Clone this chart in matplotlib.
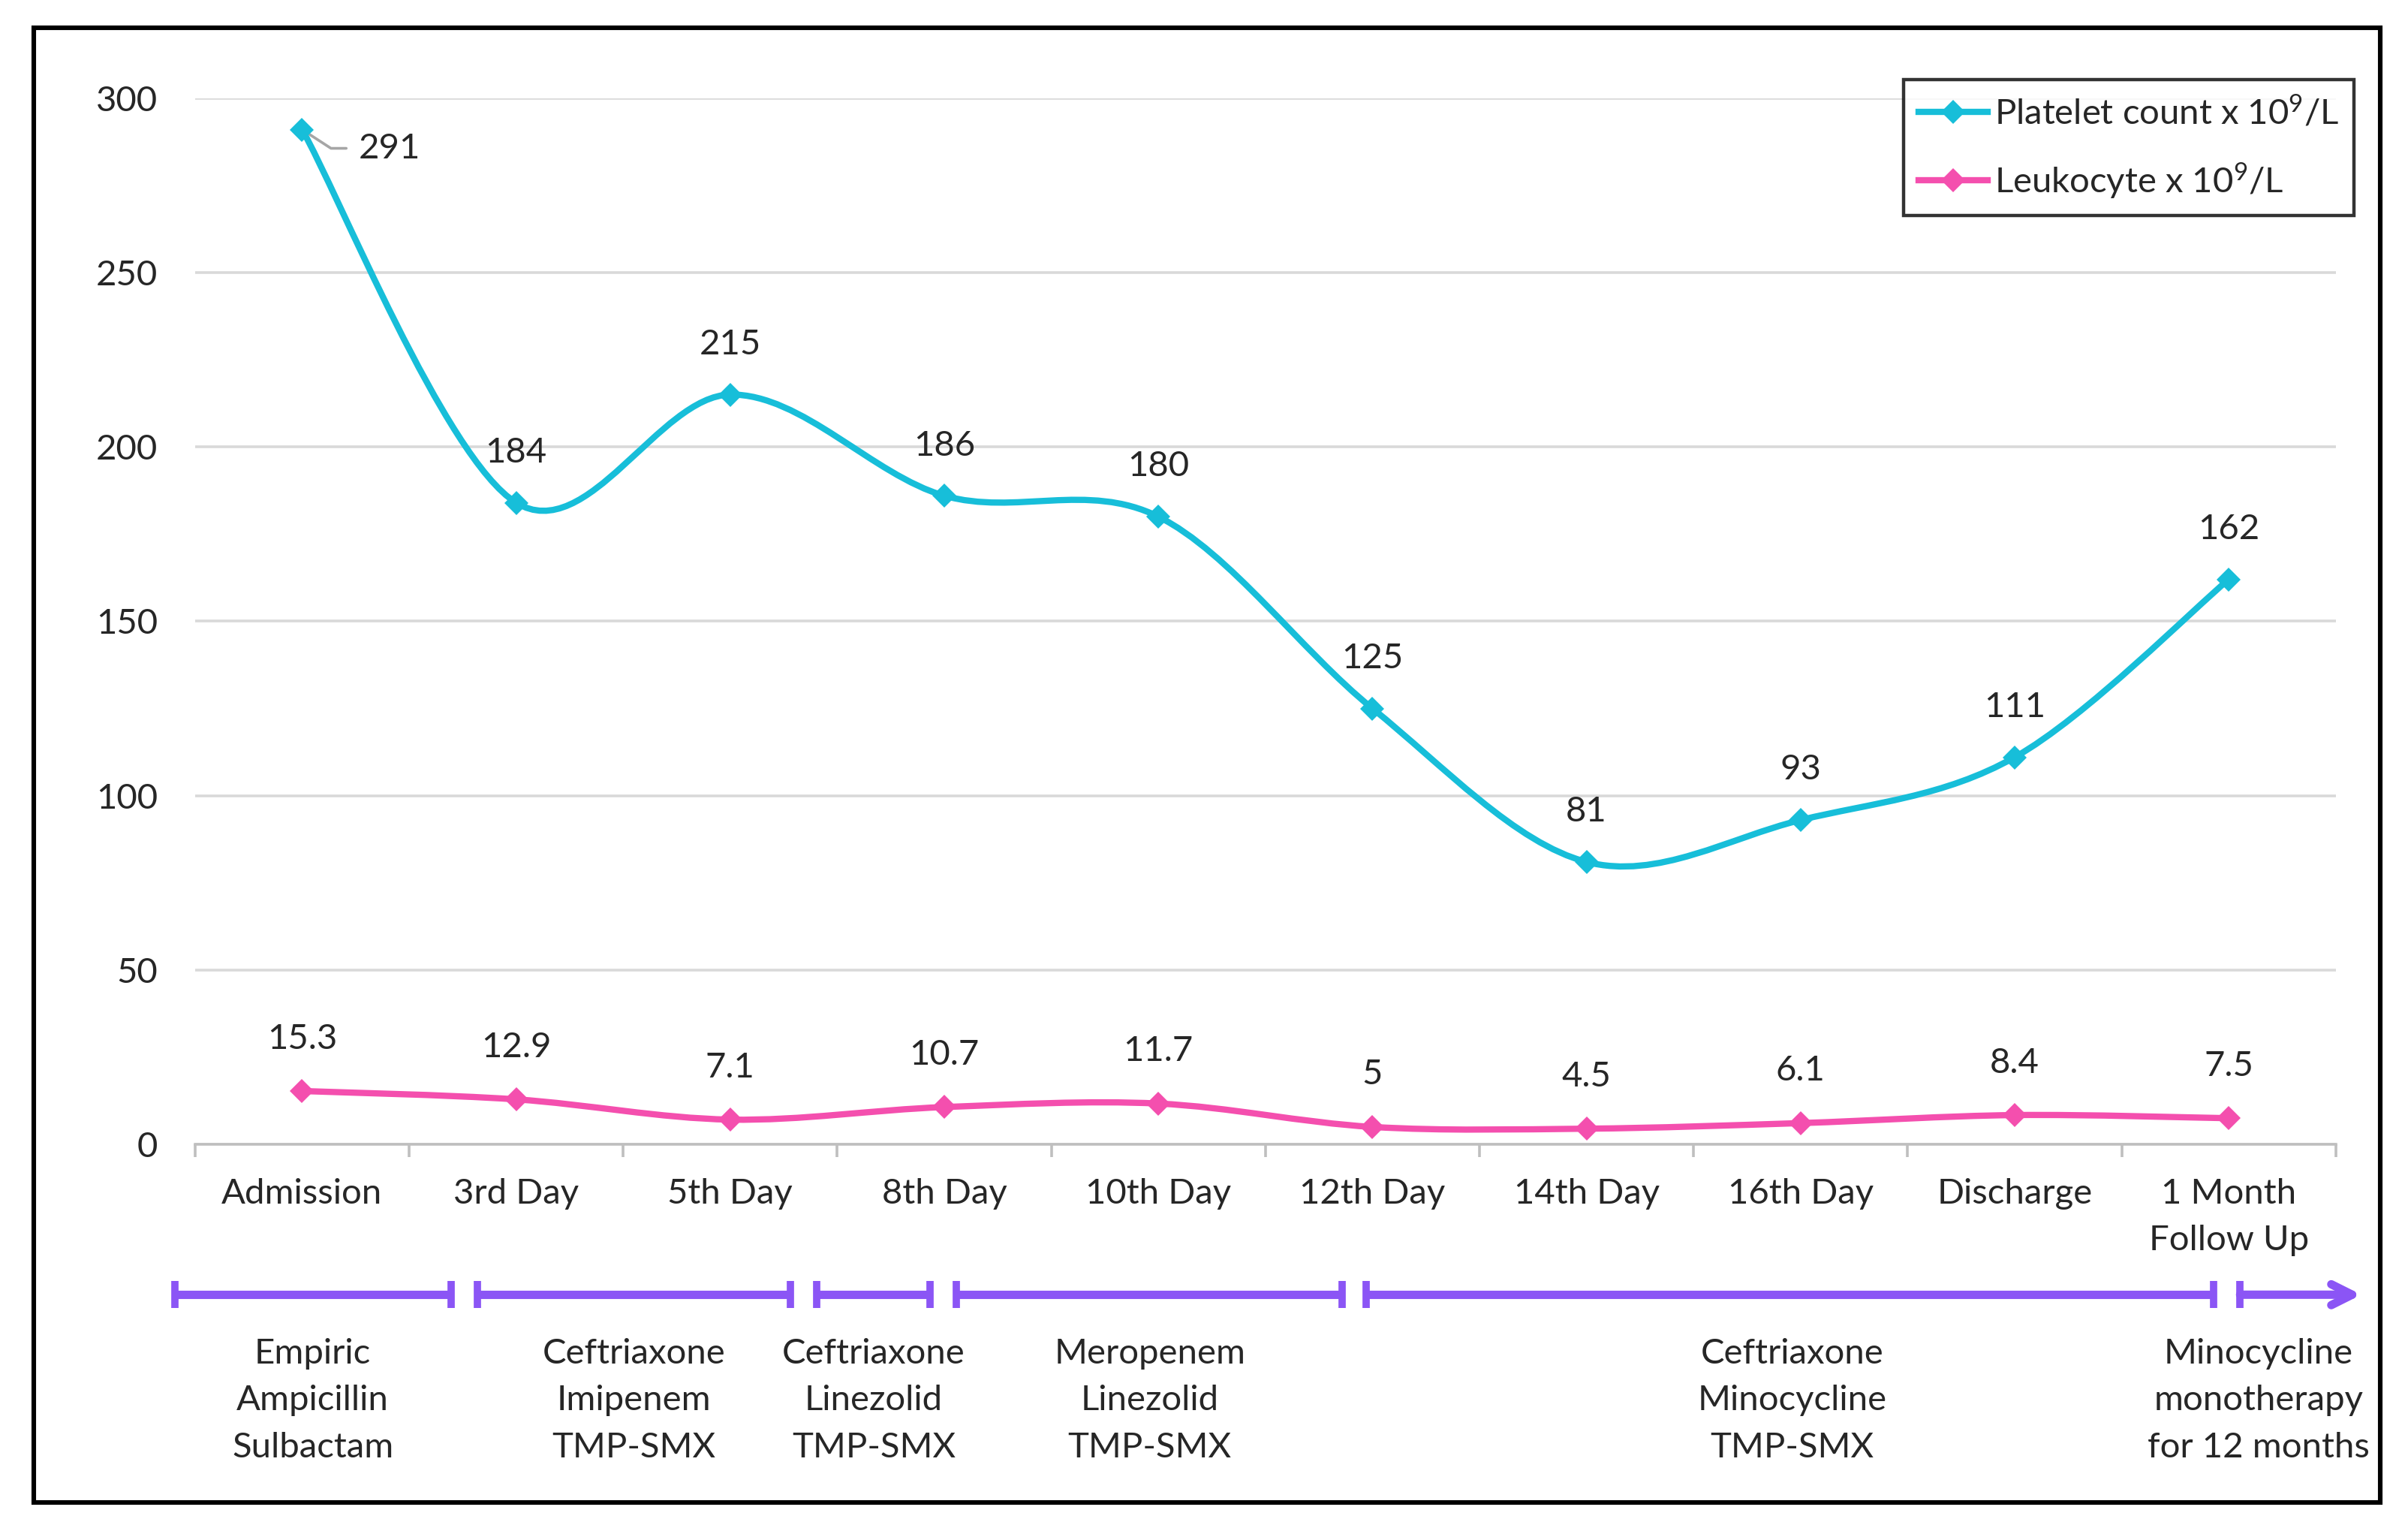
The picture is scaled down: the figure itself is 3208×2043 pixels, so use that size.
import numpy as np
import matplotlib
matplotlib.use("Agg")
import matplotlib.pyplot as plt
import matplotlib.transforms as mtransforms
from matplotlib.path import Path
from matplotlib.patches import PathPatch, Rectangle
from matplotlib.lines import Line2D

plt.rcParams['font.family'] = ['Lato', 'DejaVu Sans']
plt.rcParams['mathtext.fontset'] = 'custom'
plt.rcParams['mathtext.rm'] = 'Lato'
plt.rcParams['mathtext.it'] = 'Lato'

# Data
days = ["Admission", "3rd Day", "5th Day", "8th Day", "10th Day", "12th Day",
        "14th Day", "16th Day", "Discharge", "1 Month\nFollow Up"]
platelets = [291, 184, 215, 186, 180, 125, 81, 93, 111, 162]
leukocytes = [15.3, 12.9, 7.1, 10.7, 11.7, 5, 4.5, 6.1, 8.4, 7.5]
leuko_labels = ["15.3", "12.9", "7.1", "10.7", "11.7", "5", "4.5", "6.1", "8.4", "7.5"]
treatments = ["Empiric\nAmpicillin\nSulbactam",
              "Ceftriaxone\nImipenem\nTMP-SMX",
              "Ceftriaxone\nLinezolid\nTMP-SMX",
              "Meropenem\nLinezolid\nTMP-SMX",
              "Ceftriaxone\nMinocycline\nTMP-SMX",
              "Minocycline\nmonotherapy\nfor 12 months"]

# timeline layout (x in category units)
spans = [(-0.595, 0.696), (0.818, 2.281), (2.403, 2.934),
         (3.056, 4.857), (4.971, 8.931), (9.053, 9.62)]
label_x = [0.05, 1.55, 2.67, 3.96, 6.96, 9.14]

cyan = '#17BED9'
pink = '#F44FAE'
purple = '#8B55F5'
fs = 17


def smooth_path(xs, ys):
    # Excel-like smoothed line: Catmull-Rom converted to cubic Bezier
    p = np.column_stack([xs, ys]).astype(float)
    n = len(p)
    verts = [p[0]]
    codes = [Path.MOVETO]
    for i in range(n - 1):
        p0 = p[i - 1] if i > 0 else p[i]
        p3 = p[i + 2] if i + 2 < n else p[i + 1]
        c1 = p[i] + (p[i + 1] - p0) / 6
        c2 = p[i + 1] - (p3 - p[i]) / 6
        verts += [c1, c2, p[i + 1]]
        codes += [Path.CURVE4] * 3
    return Path(verts, codes)


fig = plt.figure(figsize=(16.04, 10.215), dpi=200)
ax = fig.add_axes([0.081, 0.254, 0.889, 0.682])

x = np.arange(len(days))

ax.add_patch(PathPatch(smooth_path(x, platelets), fill=False, edgecolor=cyan,
                       lw=3.0, capstyle='round', zorder=3))
ax.add_patch(PathPatch(smooth_path(x, leukocytes), fill=False, edgecolor=pink,
                       lw=3.0, capstyle='round', zorder=3))
ax.plot(x, platelets, ls='none', marker='D', ms=8, color=cyan, mew=0, zorder=4)
ax.plot(x, leukocytes, ls='none', marker='D', ms=8, color=pink, mew=0, zorder=4)

# data labels
for i, v in enumerate(platelets):
    if i == 0:
        ax.annotate(str(v), xy=(x[i], v), xytext=(42, -9), textcoords='offset points',
                    ha='center', va='center', fontsize=fs, color='#262626',
                    arrowprops=dict(arrowstyle='-', color='#A6A6A6', lw=1.3,
                                    connectionstyle='angle,angleA=0,angleB=-33,rad=0',
                                    shrinkA=4, shrinkB=0))
    else:
        ax.annotate(str(v), xy=(x[i], v), xytext=(0, 24), textcoords='offset points',
                    ha='center', va='center', fontsize=fs, color='#262626')
for i, v in enumerate(leukocytes):
    ax.annotate(leuko_labels[i], xy=(x[i], v), xytext=(0, 25), textcoords='offset points',
                ha='center', va='center', fontsize=fs, color='#262626')

ax.set_xlim(-0.5, len(days) - 0.5)
ax.set_ylim(0, 300)
ax.set_yticks(range(0, 301, 50))
ax.set_xticks(x)
ax.set_xticklabels(days, fontsize=fs, color='#262626', linespacing=1.6)
ax.set_xticks(np.arange(-0.5, len(days), 1), minor=True)
ax.tick_params(axis='x', which='major', length=0, pad=16)
ax.tick_params(axis='x', which='minor', length=6, width=1.3, color='#BFBFBF')
ax.tick_params(axis='y', length=0, pad=18, labelsize=fs, labelcolor='#262626')
ax.grid(axis='y', color='#D9D9D9', lw=1.3)
ax.set_axisbelow(True)
for s in ['top', 'right', 'left']:
    ax.spines[s].set_visible(False)
ax.spines['bottom'].set_color('#BFBFBF')
ax.spines['bottom'].set_linewidth(1.3)

# legend
handles = [Line2D([], [], color=cyan, lw=3.0, marker='D', ms=8, mew=0),
           Line2D([], [], color=pink, lw=3.0, marker='D', ms=8, mew=0)]
leg = fig.legend(handles, [r"Platelet count x 10$^{9}$/L", r"Leukocyte x 10$^{9}$/L"],
                 loc='upper right', bbox_to_anchor=(0.9777, 0.948), fontsize=fs,
                 frameon=True, fancybox=False, edgecolor='black', handlelength=1.95,
                 handletextpad=0.2, borderpad=0.42, labelspacing=0.85, borderaxespad=0)
leg.get_frame().set_linewidth(1.6)
for t in leg.get_texts():
    t.set_color('#262626')

# treatment timeline
tl = mtransforms.blended_transform_factory(ax.transData, fig.transFigure)
y_bar = 0.156
for k, (x0, x1) in enumerate(spans):
    if k < len(spans) - 1:
        ax.plot([x0, x1], [y_bar, y_bar], color=purple, lw=4, transform=tl,
                clip_on=False, solid_capstyle='butt')
        ax.plot([x0, x1], [y_bar, y_bar], ls='none', marker='|', ms=13, mew=3.5,
                color=purple, transform=tl, clip_on=False)
    else:
        ax.plot([x0], [y_bar], ls='none', marker='|', ms=13, mew=3.5,
                color=purple, transform=tl, clip_on=False)
        ax.annotate('', xy=(x1, y_bar), xytext=(x0, y_bar), xycoords=tl, textcoords=tl,
                    arrowprops=dict(arrowstyle='->,head_length=1.0,head_width=0.5',
                                    color=purple, lw=4, shrinkA=0, shrinkB=0,
                                    joinstyle='round', capstyle='round'),
                    annotation_clip=False)
    ax.text(label_x[k], 0.087, treatments[k], transform=tl, ha='center', va='center',
            fontsize=fs, color='#262626', linespacing=1.6)

# outer border
fig.patches.append(Rectangle((0.01403, 0.0206), 0.9745, 0.9614, transform=fig.transFigure,
                             fill=False, edgecolor='black', lw=2.2, zorder=10))

fig.savefig('out.png', dpi=200, facecolor='white')
